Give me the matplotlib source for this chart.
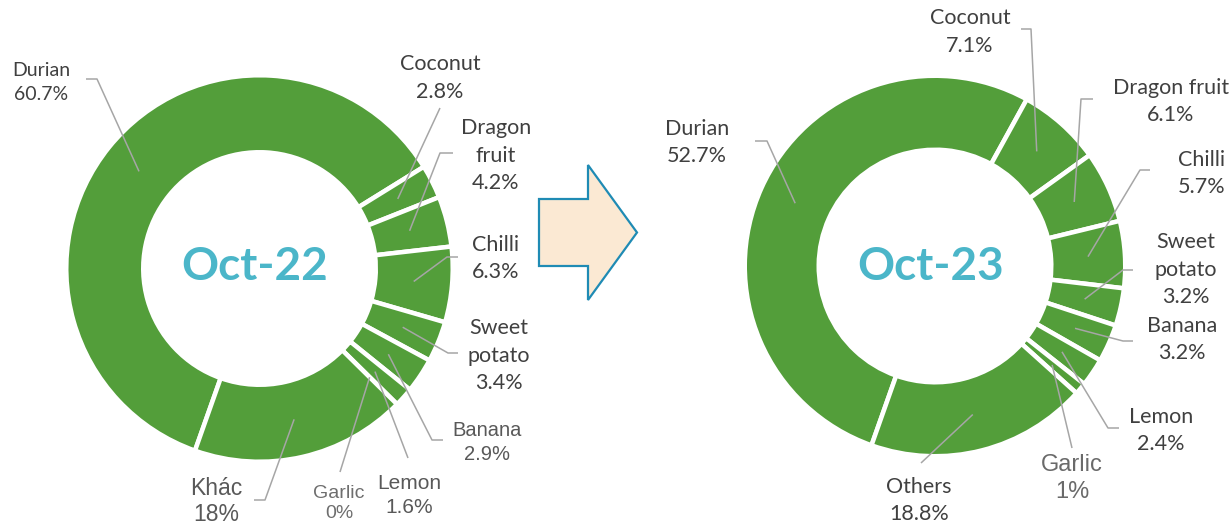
import numpy as np
import matplotlib.pyplot as plt
import matplotlib.patches as mpatches

W, H = 1231, 529

# data: share of export value by product
names_22 = ["Durian", "Coconut", "Dragon\nfruit", "Chilli", "Sweet\npotato",
            "Banana", "Lemon", "Garlic", "Khác"]
share_22 = [60.7, 2.8, 4.2, 6.3, 3.4, 2.9, 1.6, 0, 18]

names_23 = ["Durian", "Coconut", "Dragon fruit", "Chilli", "Sweet\npotato",
            "Banana", "Lemon", "Garlic", "Others"]
share_23 = [52.7, 7.1, 6.1, 5.7, 3.2, 3.2, 2.4, 1, 18.8]

titles = ["Oct-22", "Oct-23"]

green = "#539E3A"
title_color = "#4BB6C9"
leader_color = "#A6A6A6"
CAL = "Lato"
ARI = "Liberation Sans"

# label layout in pixel coords (y down): text centre, font, leader start + elbow
layout_22 = [
    (41, 81, CAL, 14, "#404040", 1.45, [(86, 79), (97, 79)]),
    (440, 76, CAL, 15.5, "#404040", 1.5, [(440, 108)]),
    (496, 154, CAL, 15.5, "#404040", 1.45, [(453, 153), (440, 153)]),
    (496, 257, CAL, 15.5, "#404040", 1.45, [(458, 257), (447, 257)]),
    (499, 354, CAL, 15.5, "#404040", 1.45, [(458, 353), (448, 353)]),
    (487, 441, ARI, 14.5, "#595959", 1.4, [(443, 440), (432, 440)]),
    (409, 494, ARI, 15, "#595959", 1.3, [(408, 458)]),
    (339, 502, ARI, 14, "#6E6E6E", 1.3, [(340, 472)]),
    (216, 500, ARI, 16.5, "#595959", 1.2, [(254, 500), (265, 500)]),
]
layout_23 = [
    (697, 141, CAL, 15.5, "#404040", 1.45, [(755, 141), (767, 141)]),
    (970, 31, CAL, 15.5, "#404040", 1.5, [(1021, 29), (1031, 29)]),
    (1171, 100, CAL, 15.5, "#404040", 1.45, [(1093, 99), (1081, 99)]),
    (1202, 172, CAL, 15.5, "#404040", 1.45, [(1150, 170), (1140, 170)]),
    (1186, 268, CAL, 15.5, "#404040", 1.45, [(1133, 270), (1123, 270)]),
    (1182, 338, CAL, 15.5, "#404040", 1.4, [(1133, 341), (1123, 341)]),
    (1161, 429, CAL, 15.5, "#404040", 1.4, [(1119, 428), (1108, 428)]),
    (1072, 477, ARI, 17, "#6A6A6A", 1.25, [(1072, 448)]),
    (919, 499, CAL, 15.5, "#404040", 1.4, [(921, 463)]),
]

charts = [
    dict(names=names_22, vals=share_22, title=titles[0], layout=layout_22,
         cx=259.5, cy=268.5, R=191, r=118.5, tx=255),
    dict(names=names_23, vals=share_23, title=titles[1], layout=layout_23,
         cx=935, cy=266, R=188, r=118.5, tx=931),
]

start = 250.5
gap = 4.5  # px

fig = plt.figure(figsize=(W / 100, H / 100), dpi=100)
ax = fig.add_axes([0, 0, 1, 1])

for c in charts:
    cx, cy = c["cx"], H - c["cy"]
    R, r = c["R"], c["r"]
    vals = np.array(c["vals"], dtype=float)
    ax.pie(vals, center=(cx, cy), radius=R + gap / 2, startangle=start,
           counterclock=False, colors=[green] * len(vals), frame=True,
           wedgeprops=dict(width=R - r + gap, edgecolor="white",
                           linewidth=gap * 72 / 100))

    ax.text(c["tx"], H - 267, c["title"], ha="center", va="center",
            fontsize=33, fontweight="bold", family=CAL, color=title_color)

    # leader lines and labels
    total = vals.sum()
    before = np.concatenate([[0], np.cumsum(vals)[:-1]])
    mids = np.deg2rad(start - 360 * (before + vals / 2) / total)
    rm = (R + r) / 2
    for i, (name, v) in enumerate(zip(c["names"], vals)):
        x, y, fam, fs, col, ls, pts = c["layout"][i]
        ex = cx + rm * np.cos(mids[i])
        ey = cy + rm * np.sin(mids[i])
        px = [p[0] for p in pts] + [ex]
        py = [H - p[1] for p in pts] + [ey]
        ax.plot(px, py, color=leader_color, lw=1.1, solid_capstyle="butt")
        ax.text(x, H - y - 1.5, f"{name}\n{v:g}%", ha="center", va="center",
                multialignment="center", fontsize=fs, family=fam, color=col,
                linespacing=ls)

# arrow between the two charts
arrow = mpatches.FancyArrow(539, H - 232.5, 98, 0, width=67, head_width=135,
                            head_length=49, length_includes_head=True,
                            facecolor="#FBE9D3", edgecolor="#1F8BB4", lw=1.6)
ax.add_patch(arrow)

ax.set_xlim(0, W)
ax.set_ylim(0, H)
ax.set_aspect("equal")
ax.axis("off")

fig.savefig("out.png", dpi=100)
